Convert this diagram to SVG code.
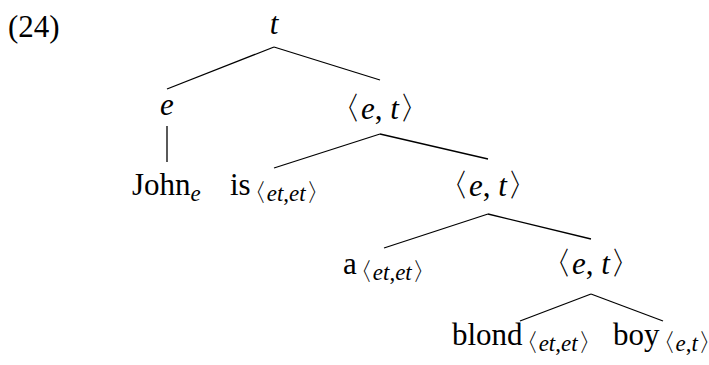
<svg xmlns="http://www.w3.org/2000/svg" width="709" height="365" viewBox="0 0 709 365">
<style>
text{font-family:"Liberation Serif","DejaVu Serif",serif;fill:#000;font-size:31px}
.i{font-style:italic}
.sub{font-size:23px}
.b{font-family:"DejaVu Sans",sans-serif;font-weight:200;font-style:normal;font-size:32px}
.sub .b{font-size:25px}
line{stroke:#000;stroke-width:1.3}
</style>
<rect width="709" height="365" fill="#fff"/>
<text x="8" y="37" font-size="28">(24)</text>
<g id="connectors">
<line x1="274" y1="47" x2="167" y2="89"/>
<line x1="274" y1="47" x2="380" y2="80"/>
<line x1="167" y1="126" x2="167" y2="162"/>
<line x1="380" y1="134" x2="274" y2="168"/>
<line x1="380" y1="134" x2="488" y2="159"/>
<line x1="488" y1="214" x2="384" y2="248"/>
<line x1="488" y1="214" x2="591" y2="239"/>
<line x1="591" y1="294" x2="520" y2="321"/>
<line x1="591" y1="294" x2="663" y2="321"/>
</g>
<g id="n-t"><text class="i" x="274" y="34" text-anchor="middle">t</text></g>
<g id="n-e"><text class="i" x="167" y="115" text-anchor="middle">e</text></g>
<g id="n-et1"><text x="380" y="119" text-anchor="middle"><tspan class="b">〈</tspan><tspan class="i">e</tspan>, <tspan class="i">t</tspan><tspan class="b">〉</tspan></text></g>
<g id="n-john"><text x="132" y="195">John<tspan class="i sub" dy="6">e</tspan></text></g>
<g id="n-is"><text x="230" y="195">is<tspan class="sub" dy="6"><tspan class="b" dx="-9">〈</tspan><tspan class="i">et</tspan>,<tspan class="i">et</tspan><tspan class="b">〉</tspan></tspan></text></g>
<g id="n-et2"><text x="488" y="196" text-anchor="middle"><tspan class="b">〈</tspan><tspan class="i">e</tspan>, <tspan class="i">t</tspan><tspan class="b">〉</tspan></text></g>
<g id="n-a"><text x="343" y="274">a<tspan class="sub" dy="6"><tspan class="b" dx="-9">〈</tspan><tspan class="i">et</tspan>,<tspan class="i">et</tspan><tspan class="b">〉</tspan></tspan></text></g>
<g id="n-et3"><text x="591" y="274" text-anchor="middle"><tspan class="b">〈</tspan><tspan class="i">e</tspan>, <tspan class="i">t</tspan><tspan class="b">〉</tspan></text></g>
<g id="n-blond"><text x="452" y="345">blond<tspan class="sub" dy="6"><tspan class="b" dx="-9">〈</tspan><tspan class="i">et</tspan>,<tspan class="i">et</tspan><tspan class="b">〉</tspan></tspan></text></g>
<g id="n-boy"><text x="613" y="345">boy<tspan class="sub" dy="6"><tspan class="b" dx="-9">〈</tspan><tspan class="i">e</tspan>,<tspan class="i">t</tspan><tspan class="b">〉</tspan></tspan></text></g>
</svg>
